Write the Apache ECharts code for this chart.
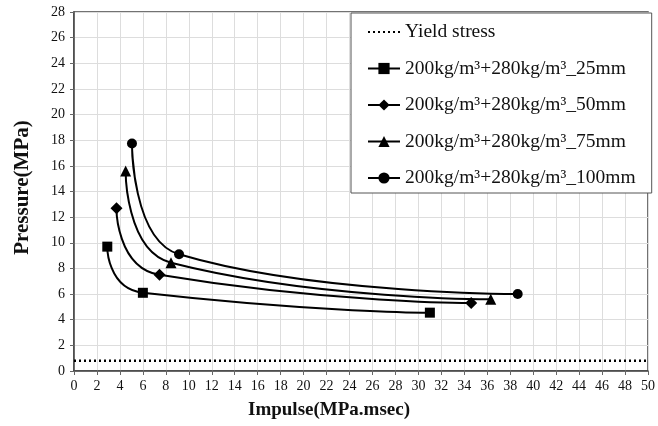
<!DOCTYPE html>
<html><head><meta charset="utf-8">
<script src="https://cdn.jsdelivr.net/npm/echarts@6/dist/echarts.min.js"></script>
<style>html,body{margin:0;padding:0;background:#fff}#c{width:658px;height:426px}</style>
</head><body><div id="c"></div>
<script>
var seriesNames = ['200kg/m³+280kg/m³_25mm','200kg/m³+280kg/m³_50mm','200kg/m³+280kg/m³_75mm','200kg/m³+280kg/m³_100mm'];
var impulse25 = [2.9, 6.0, 31.0];
var pressure25 = [9.7, 6.1, 4.55];
var impulse50 = [3.7, 7.45, 34.6];
var pressure50 = [12.7, 7.5, 5.3];
var impulse75 = [4.5, 8.45, 36.3];
var pressure75 = [15.6, 8.45, 5.6];
var impulse100 = [5.05, 9.15, 38.65];
var pressure100 = [17.75, 9.1, 6.0];
var yieldX = [0, 50];
var yieldY = [0.8, 0.8];
var symbols = ['rect','diamond','triangle','circle'];
var symbolSizes = [10, 12, 11, 10];

function pairs(xs, ys){ return xs.map(function(x,i){return [x, ys[i]];}); }
var dataSets = [pairs(impulse25,pressure25), pairs(impulse50,pressure50), pairs(impulse75,pressure75), pairs(impulse100,pressure100)];

var font = 'Liberation Serif';
var series = [{
  name: 'Yield stress', type: 'line', data: pairs(yieldX, yieldY), symbol: 'none',
  lineStyle: {color: '#000', width: 2.5, type: [2, 3]}, itemStyle: {color: '#000'}
}];
dataSets.forEach(function(d, i){
  series.push({
    name: seriesNames[i], type: 'line', data: d, smooth: 0.7,
    symbol: symbols[i], symbolSize: symbolSizes[i],
    lineStyle: {color: '#000', width: 2}, itemStyle: {color: '#000'}
  });
});

var chart = echarts.init(document.getElementById('c'));
chart.setOption({
  animation: false,
  grid: {left: 74, right: 6, top: 12, bottom: 55, show: true, borderColor: '#444', borderWidth: 1.5, containLabel: false},
  legend: {
    orient: 'vertical', left: 351, top: 13,
    backgroundColor: '#fff', borderColor: '#555', borderWidth: 1,
    padding: [9, 16, 5, 16], itemWidth: 32, itemHeight: 14, itemGap: 16.5,
    textStyle: {fontFamily: font, fontSize: 19.5, color: '#111'},
    data: [{name: 'Yield stress', itemStyle: {opacity: 0}}].concat(seriesNames)
  },
  xAxis: {
    type: 'value', min: 0, max: 50, interval: 2,
    name: 'Impulse(MPa.msec)', nameLocation: 'middle', nameGap: 30,
    nameTextStyle: {fontFamily: font, fontSize: 19, fontWeight: 'bold', color: '#111', padding: [0, 64, 0, 0]},
    axisLine: {lineStyle: {color: '#444', width: 1.5}},
    axisTick: {show: true, length: 4, lineStyle: {color: '#666'}},
    axisLabel: {fontFamily: font, fontSize: 14, color: '#111', margin: 8},
    splitLine: {show: true, lineStyle: {color: '#ddd', width: 1}}
  },
  yAxis: {
    type: 'value', min: 0, max: 28, interval: 2,
    name: 'Pressure(MPa)', nameLocation: 'middle', nameGap: 41,
    nameTextStyle: {fontFamily: font, fontSize: 21, fontWeight: 'bold', color: '#111', padding: [0, 0, 0, 8]},
    axisLine: {show: true, lineStyle: {color: '#444', width: 1.5}},
    axisTick: {show: true, length: 4, lineStyle: {color: '#666'}},
    axisLabel: {fontFamily: font, fontSize: 14, color: '#111', margin: 9},
    splitLine: {show: true, lineStyle: {color: '#ddd', width: 1}}
  },
  series: series
});
</script></body></html>
